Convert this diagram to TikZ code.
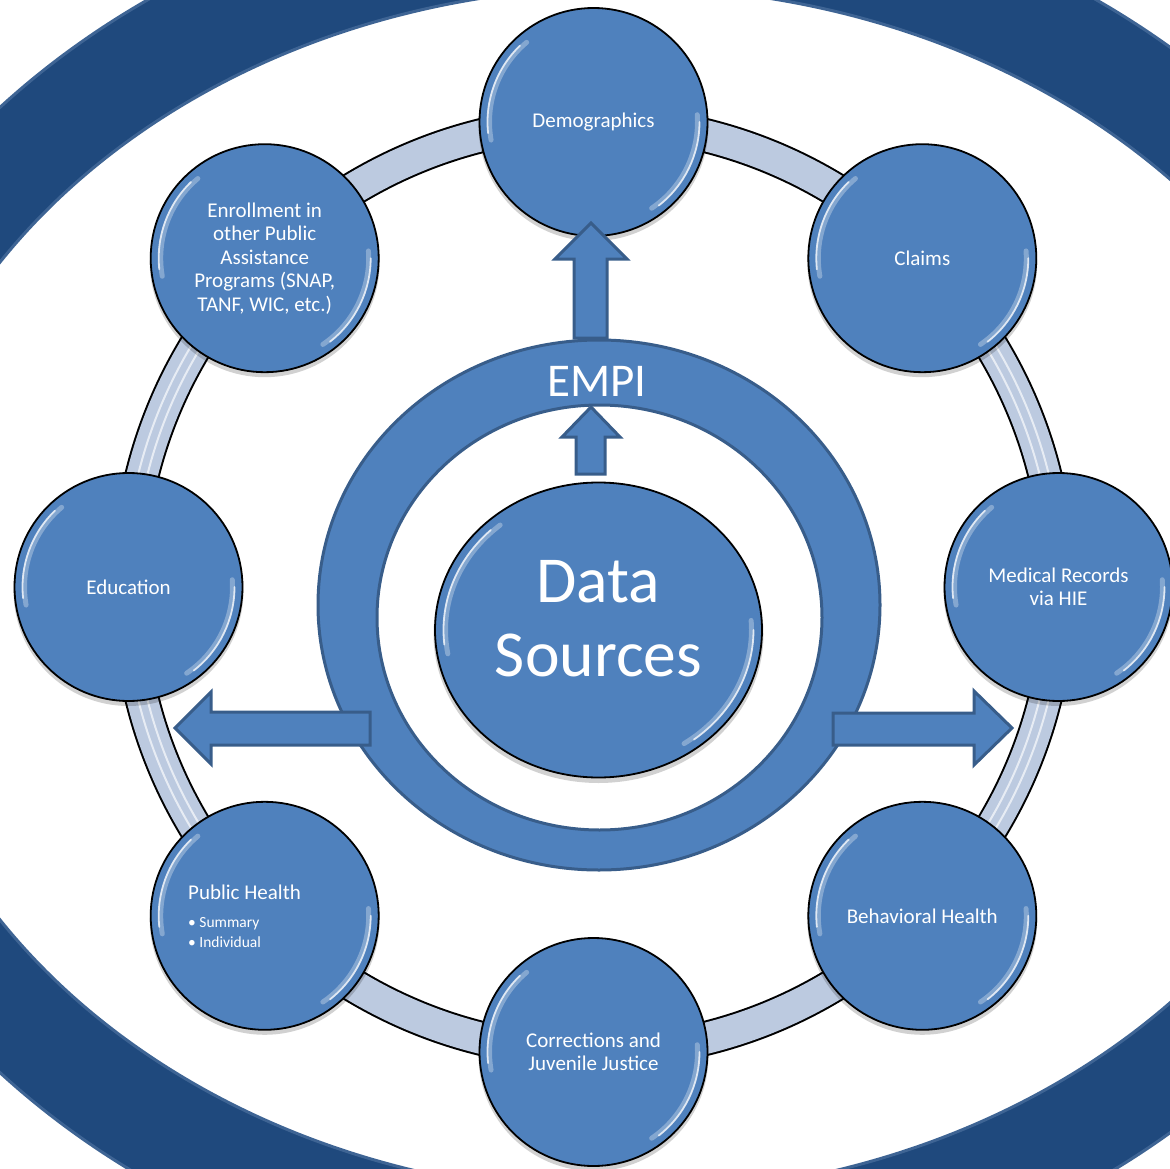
\documentclass[tikz,border=0pt]{standalone}
\usepackage{fontspec}
\setmainfont{Carlito}
\usetikzlibrary{shapes.geometric}
\definecolor{darkring}{RGB}{31,73,125}
\definecolor{darkedge}{RGB}{62,100,148}
\definecolor{nodeblue}{RGB}{79,129,189}
\definecolor{nodeedge}{RGB}{56,93,138}
\definecolor{bandblue}{RGB}{188,202,224}
\begin{document}
\begin{tikzpicture}[x=1pt,y=-1pt,
  bubble/.style={circle, minimum size=228pt, inner sep=0pt, fill=nodeblue, draw=black, line width=1.8pt, text=white, align=center, font=\fontsize{21}{23.5}\selectfont},
  blockarrow/.style={fill=nodeblue, draw=nodeedge, line width=3pt, line join=miter},
  glossA/.style={white, opacity=0.3, line width=5pt, line cap=round},
  glossB/.style={white, opacity=0.75, line width=1.8pt, line cap=round},
  shade/.style={black, opacity=0.18},
  stripe/.style={white, opacity=0.65, line width=2pt}
]
\useasboundingbox (0,0) rectangle (1170,1169);
\begin{scope}
\clip (0,0) rectangle (1170,1169);
% big outer ring
\fill[darkring, even odd rule] (622,590) ellipse [x radius=845, y radius=713] (625,591) ellipse [x radius=745, y radius=604];
\draw[darkedge, line width=3pt] (622,590) ellipse [x radius=845, y radius=713];
\draw[darkedge, line width=3pt] (625,591) ellipse [x radius=745, y radius=604];

% connecting band
\coordinate (hub) at (593.5,587);
\draw[black, line width=35pt] (hub) circle [radius=465];
\draw[bandblue, line width=31pt] (hub) circle [radius=465];
\foreach \a/\b in {-40/40, 140/220} {
  \draw[stripe] (hub) ++(\a:460) arc[start angle=\a, end angle=\b, radius=460];
  \draw[stripe] (hub) ++(\a:469) arc[start angle=\a, end angle=\b, radius=469];
}

% shadows
\foreach \p in {(593.5,122),(922.3,258.2),(1058.5,587),(922.3,915.8),(593.5,1052),(264.7,915.8),(128.5,587),(264.7,258.2)} {
  \fill[shade] \p ++(0,4) circle [radius=115];
}

% satellite nodes
\node[bubble] (demo) at (593.5,122) {Demographics};
\node[bubble] (claims) at (922.3,258.2) {Claims};
\node[bubble] (med) at (1058.5,587) {Medical Records\\via HIE};
\node[bubble] (beh) at (922.3,915.8) {Behavioral Health};
\node[bubble] (corr) at (593.5,1052) {Corrections and\\Juvenile Justice};
\node[bubble] (pub) at (264.7,915.8) {};
\node[bubble] (edu) at (128.5,587) {Education};
\node[bubble] (enr) at (264.7,258.2) {Enrollment in\\other Public\\Assistance\\Programs (SNAP,\\TANF, WIC, etc.)};

\foreach \n in {demo,claims,med,beh,corr,pub,edu,enr} {
  \draw[glossA] (\n.center) ++(170:104) arc[start angle=170, end angle=230, radius=104];
  \draw[glossB] (\n.center) ++(174:106) arc[start angle=174, end angle=226, radius=106];
  \draw[glossA] (\n.center) ++(-4:104) arc[start angle=-4, end angle=56, radius=104];
  \draw[glossB] (\n.center) ++(0:106) arc[start angle=0, end angle=52, radius=106];
}

% Public Health text
\node[anchor=base west, text=white, font=\fontsize{21}{23.5}\selectfont, inner sep=0pt] (pubtitle) at (188,899) {Public Health};
\node[anchor=base west, text=white, font=\fontsize{15.5}{20}\selectfont, inner sep=0pt] (pubsum) at (188,927) {• Summary};
\node[anchor=base west, text=white, font=\fontsize{15.5}{20}\selectfont, inner sep=0pt] (pubind) at (188,947) {• Individual};

% EMPI ring
\fill[nodeblue, even odd rule] (599,605) ellipse [x radius=281, y radius=265] (599.5,617.5) ellipse [x radius=222.5, y radius=212.5];
\draw[nodeedge, line width=3pt] (599,605) ellipse [x radius=281, y radius=265];
\draw[nodeedge, line width=3pt] (599.5,617.5) ellipse [x radius=222.5, y radius=212.5];
\node[text=white, font=\fontsize{47}{50}\selectfont, inner sep=0pt] (empi) at (597,381) {EMPI};

% Data Sources
\fill[shade] (598.5,634) ellipse [x radius=165, y radius=149];
\node[ellipse, minimum width=327pt, minimum height=295pt, inner sep=0pt, fill=nodeblue, draw=black, line width=1.8pt] (ds) at (598.5,630) {};
\node[text=white, align=center, font=\fontsize{65.6}{74}\selectfont, inner sep=0pt] (dstext) at (598.5,619) {Data\\Sources};
\draw[glossA] (ds.center) ++(170:153 and 137) arc[start angle=170, end angle=230, x radius=153, y radius=137];
\draw[glossB] (ds.center) ++(174:155 and 139) arc[start angle=174, end angle=226, x radius=155, y radius=139];
\draw[glossA] (ds.center) ++(-4:153 and 137) arc[start angle=-4, end angle=56, x radius=153, y radius=137];
\draw[glossB] (ds.center) ++(0:155 and 139) arc[start angle=0, end angle=52, x radius=155, y radius=139];

% block arrows
\draw[blockarrow] (574,338) -- (574,259) -- (555,259) -- (591,223) -- (627,259) -- (607,259) -- (607,338) -- cycle;
\draw[blockarrow] (576,474) -- (576,437) -- (562,437) -- (591,407) -- (620,437) -- (605,437) -- (605,474) -- cycle;
\draw[blockarrow] (370,712) -- (211,712) -- (211,692) -- (175,728) -- (211,764) -- (211,745) -- (370,745) -- cycle;
\draw[blockarrow] (833,713) -- (974,713) -- (974,691) -- (1012,728) -- (974,765) -- (974,745) -- (833,745) -- cycle;
\end{scope}
\end{tikzpicture}
\end{document}
